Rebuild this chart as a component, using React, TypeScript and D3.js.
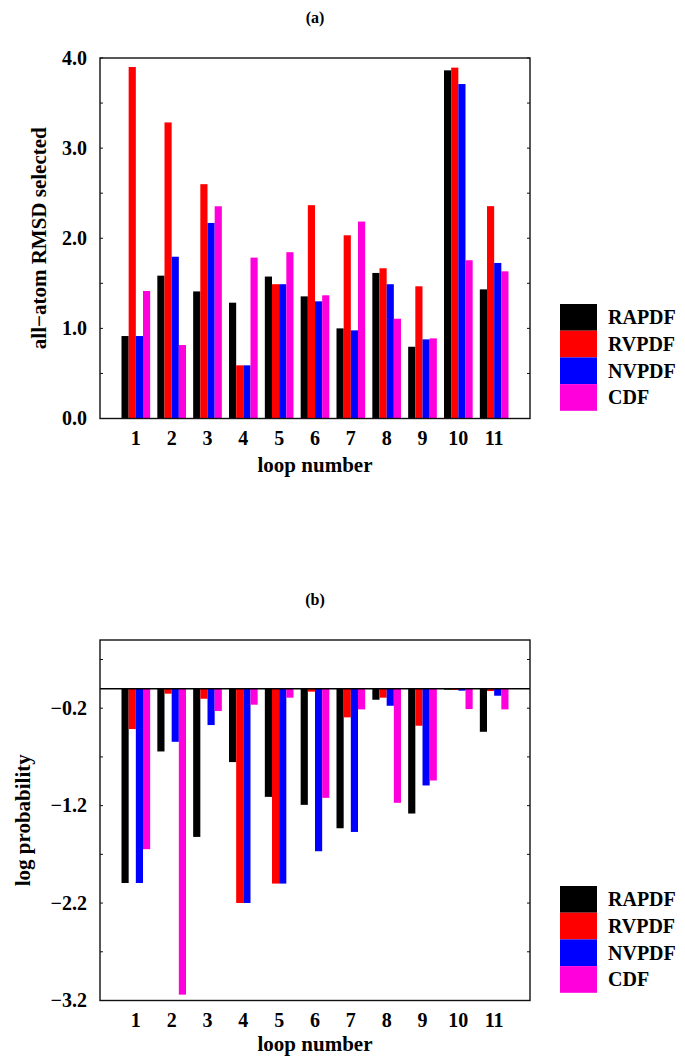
import React from "react";
import * as d3 from "d3";

const loops = [1, 2, 3, 4, 5, 6, 7, 8, 9, 10, 11];
const seriesNames = ["RAPDF", "RVPDF", "NVPDF", "CDF"];
const seriesColors = ["#000000", "#ff0000", "#0000ff", "#ff00dc"];

// (a) all-atom RMSD selected
const rmsdRAPDF = [0.915, 1.585, 1.41, 1.285, 1.575, 1.355, 1.0, 1.615, 0.796, 3.863, 1.433];
const rmsdRVPDF = [3.9, 3.285, 2.6, 0.59, 1.49, 2.367, 2.033, 1.667, 1.467, 3.893, 2.356];
const rmsdNVPDF = [0.915, 1.795, 2.17, 0.59, 1.49, 1.3, 0.978, 1.49, 0.878, 3.711, 1.726];
const rmsdCDF = [1.415, 0.815, 2.355, 1.785, 1.845, 1.367, 2.185, 1.107, 0.889, 1.756, 1.633];

// (b) log probability
const logpRAPDF = [-1.994, -0.644, -1.521, -0.753, -1.11, -1.192, -1.432, -0.113, -1.281, -0.01, -0.442];
const logpRVPDF = [-0.414, -0.051, -0.103, -2.199, -2.0, -0.03, -0.294, -0.092, -0.38, -0.013, -0.024];
const logpNVPDF = [-1.994, -0.545, -0.373, -2.199, -2.0, -1.668, -1.47, -0.175, -0.993, -0.02, -0.072];
const logpCDF = [-1.647, -3.14, -0.229, -0.164, -0.092, -1.12, -0.212, -1.171, -0.942, -0.209, -0.212];

const topMajorTicks = [0.0, 1.0, 2.0, 3.0, 4.0];
const topMinorTicks = [0.5, 1.5, 2.5, 3.5];
const botMajorTicks = [-3.2, -2.2, -1.2, -0.2];
const botMinorTicks = [-2.7, -1.7, -0.7, 0.3];

const FONT = "'Liberation Serif', 'DejaVu Serif', serif";

type PanelProps = {
  title: string;
  yTitle: string;
  series: number[][];
  yDomain: [number, number];
  majorTicks: number[];
  minorTicks: number[];
  tickFormat: (v: number) => string;
  offsetY: number;
  zeroLine: boolean;
  yTitleX: number;
  xTitleGap: number;
};

function Panel({ title, yTitle, series, yDomain, majorTicks, minorTicks, tickFormat, offsetY, zeroLine, yTitleX, xTitleGap }: PanelProps) {
  const left = 100;
  const right = 530;
  const top = 58 + offsetY;
  const bottom = 418.5 + offsetY;
  const x = d3.scaleLinear().domain([0, 12]).range([left, right]);
  const y = d3.scaleLinear().domain(yDomain).range([bottom, top]);
  const bw = x(0.2) - x(0);
  const cx = (left + right) / 2;
  const cy = (top + bottom) / 2;
  const tickLen = 3;
  return (
    <g>
      <text x={cx} y={23 + offsetY} textAnchor="middle" fontFamily={FONT} fontWeight="bold" fontSize={16}>
        {title}
      </text>
      {series.map((vals, si) =>
        vals.map((v, i) => {
          const x0 = x(loops[i]) - 2 * bw + si * bw;
          const y0 = y(0);
          const y1 = y(v);
          return (
            <rect
              key={`${si}-${i}`}
              x={x0}
              y={Math.min(y0, y1)}
              width={bw}
              height={Math.abs(y1 - y0)}
              fill={seriesColors[si]}
            />
          );
        })
      )}
      {zeroLine && <line x1={left} x2={right} y1={y(0)} y2={y(0)} stroke="#000" strokeWidth={1.5} />}
      <rect x={left} y={top} width={right - left} height={bottom - top} fill="none" stroke="#111" strokeWidth={1.4} />
      {[...majorTicks, ...minorTicks].map((t, i) => (
        <g key={`t${i}`}>
          <line x1={left} x2={left + tickLen} y1={y(t)} y2={y(t)} stroke="#111" strokeWidth={1} />
          <line x1={right} x2={right - tickLen} y1={y(t)} y2={y(t)} stroke="#111" strokeWidth={1} />
        </g>
      ))}
      {majorTicks.map((t, i) => (
        <text
          key={`l${i}`}
          x={87}
          y={y(t)}
          dy="0.34em"
          textAnchor="end"
          fontFamily={FONT}
          fontWeight="bold"
          fontSize={20}
        >
          {tickFormat(t)}
        </text>
      ))}
      {loops.map((l) => (
        <text
          key={`x${l}`}
          x={x(l)}
          y={bottom + 26}
          textAnchor="middle"
          fontFamily={FONT}
          fontWeight="bold"
          fontSize={20}
        >
          {l}
        </text>
      ))}
      <text x={cx} y={bottom + xTitleGap} textAnchor="middle" fontFamily={FONT} fontWeight="bold" fontSize={21}>
        loop number
      </text>
      <text
        transform={`translate(${yTitleX},${cy}) rotate(-90)`}
        dy="0.34em"
        textAnchor="middle"
        fontFamily={FONT}
        fontWeight="bold"
        fontSize={21}
      >
        {yTitle}
      </text>
      {seriesNames.map((name, si) => {
        const ry = 304 + offsetY + si * 26.7;
        return (
          <g key={name}>
            <rect x={560} y={ry} width={37} height={26.7} fill={seriesColors[si]} />
            <text x={608} y={ry + 13.35} dy="0.34em" fontFamily={FONT} fontWeight="bold" fontSize={20}>
              {name}
            </text>
          </g>
        );
      })}
    </g>
  );
}

export default function App() {
  const fmtTop = (v: number) => d3.format(".1f")(v);
  const fmtBot = (v: number) => d3.format(".1f")(v).replace("-", "\u2212");
  return (
    <svg
      width={685}
      height={1057}
      style={{ position: "absolute", left: 0, top: 0, background: "#fff" }}
    >
      <rect x={0} y={0} width={685} height={1057} fill="#fff" />
      <Panel
        title="(a)"
        yTitle={"all\u2212atom RMSD selected"}
        series={[rmsdRAPDF, rmsdRVPDF, rmsdNVPDF, rmsdCDF]}
        yDomain={[0, 4]}
        majorTicks={topMajorTicks}
        minorTicks={topMinorTicks}
        tickFormat={fmtTop}
        offsetY={0}
        zeroLine={false}
        yTitleX={39}
        xTitleGap={53}
      />
      <Panel
        title="(b)"
        yTitle="log probability"
        series={[logpRAPDF, logpRVPDF, logpNVPDF, logpCDF]}
        yDomain={[-3.2, 0.5]}
        majorTicks={botMajorTicks}
        minorTicks={botMinorTicks}
        tickFormat={fmtBot}
        offsetY={582}
        zeroLine={true}
        yTitleX={23}
        xTitleGap={50}
      />
    </svg>
  );
}
